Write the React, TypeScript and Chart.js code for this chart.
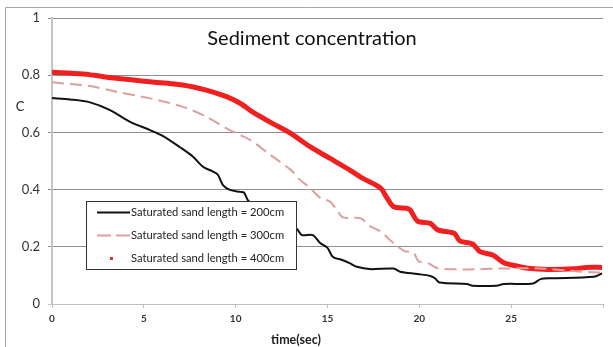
import React, { useEffect, useRef } from 'react';
import { Chart, registerables } from 'chart.js';

Chart.register(...registerables);

// ---- Data ----
const time200 = [0, 1, 2.07, 3.16, 4.25, 5.34, 6.05, 6.97, 7.68, 8.22, 8.77, 9.04, 9.31, 9.69, 10.24, 10.45, 10.7, 11.5, 12.5, 13.34, 13.6, 14.2, 14.6, 15.0, 15.3, 15.8, 16.2, 16.6, 17.3, 18.6, 18.95, 19.9, 20.6, 20.85, 21.1, 22.6, 22.9, 24.2, 24.6, 26.2, 26.6, 27.1, 29.5, 29.95];
const conc200 = [0.72, 0.715, 0.705, 0.678, 0.637, 0.608, 0.587, 0.548, 0.515, 0.48, 0.463, 0.451, 0.416, 0.399, 0.392, 0.39, 0.36, 0.33, 0.29, 0.262, 0.241, 0.241, 0.213, 0.196, 0.164, 0.154, 0.143, 0.13, 0.122, 0.124, 0.113, 0.105, 0.098, 0.09, 0.075, 0.07, 0.064, 0.064, 0.07, 0.072, 0.087, 0.09, 0.095, 0.107];

const time300 = [0, 2.07, 3.5, 5.34, 7.1, 8.4, 9.5, 10.24, 10.8, 11.9, 13.0, 13.5, 14.05, 14.6, 15.14, 15.5, 15.85, 16.8, 17.3, 17.9, 18.4, 18.95, 19.2, 19.7, 19.95, 20.5, 21.0, 22.6, 24.4, 26.6, 28.8, 29.95];
const conc300 = [0.775, 0.762, 0.742, 0.719, 0.69, 0.655, 0.614, 0.591, 0.573, 0.521, 0.469, 0.434, 0.406, 0.371, 0.358, 0.329, 0.303, 0.3, 0.273, 0.253, 0.224, 0.195, 0.185, 0.178, 0.15, 0.142, 0.125, 0.121, 0.124, 0.124, 0.113, 0.11];

const time400 = [0, 1.7, 3.5, 5.34, 7.1, 8.4, 9.5, 10.24, 11.0, 11.9, 13.0, 14.05, 15.14, 16.2, 16.9, 17.9, 18.2, 18.6, 19.3, 19.5, 19.9, 20.6, 21.0, 21.9, 22.2, 22.9, 23.3, 24.0, 24.6, 25.3, 25.9, 27.0, 28.4, 29.1, 29.95];
const conc400 = [0.81, 0.804, 0.789, 0.777, 0.766, 0.748, 0.725, 0.702, 0.668, 0.635, 0.597, 0.55, 0.509, 0.469, 0.44, 0.405, 0.375, 0.34, 0.335, 0.329, 0.29, 0.282, 0.259, 0.247, 0.221, 0.21, 0.183, 0.171, 0.144, 0.133, 0.125, 0.121, 0.123, 0.128, 0.128];

const seriesLabels = [
  'Saturated sand length = 200cm',
  'Saturated sand length = 300cm',
  'Saturated sand length = 400cm',
];
const xTickValues = [0, 5, 10, 15, 20, 25];
const yTickValues = [0, 0.2, 0.4, 0.6, 0.8, 1];
const chartTitle = 'Sediment concentration';
const xTitle = 'time(sec)';
const yTitle = 'C';

const pts = (t: number[], c: number[]) => t.map((x, i) => ({ x, y: c[i] }));

const FONT = 'Lato, "Open Sans", sans-serif';

const overlayPlugin = {
  id: 'overlay',
  afterDraw(chart: any) {
    const ctx = chart.ctx as CanvasRenderingContext2D;
    ctx.save();
    // outer frame (left & top visible)
    ctx.strokeStyle = '#a6a6a6';
    ctx.lineWidth = 1;
    ctx.beginPath();
    ctx.moveTo(5.5, 347);
    ctx.lineTo(5.5, 7.5);
    ctx.lineTo(613, 7.5);
    ctx.stroke();

    ctx.fillStyle = '#111';
    ctx.textAlign = 'center';
    ctx.textBaseline = 'middle';
    ctx.font = `20px ${FONT}`;
    ctx.fillText(chartTitle, 312, 39);

    ctx.font = `13px ${FONT}`;
    ctx.fillStyle = '#222';
    ctx.fillText(yTitle, 20, 107);

    ctx.font = `bold 12.5px ${FONT}`;
    ctx.fillText(xTitle, 296, 340);

    // legend box
    const bx = 86.5, by = 201.5, bw = 210, bh = 68;
    ctx.fillStyle = '#fff';
    ctx.fillRect(bx, by, bw, bh);
    ctx.strokeStyle = '#333';
    ctx.lineWidth = 1;
    ctx.strokeRect(bx, by, bw, bh);

    const rows = [212, 235, 258];
    const ds = chart.data.datasets;
    ctx.font = `11.2px ${FONT}`;
    ctx.textAlign = 'left';
    for (let i = 0; i < 3; i++) {
      const y = rows[i];
      const d = ds[i];
      ctx.save();
      if (i < 2) {
        ctx.strokeStyle = d.borderColor;
        ctx.lineWidth = 2;
        ctx.setLineDash(i === 1 ? [14, 5] : []);
        ctx.beginPath();
        ctx.moveTo(97, y + 0.5);
        ctx.lineTo(130, y + 0.5);
        ctx.stroke();
      } else {
        ctx.fillStyle = '#e03030';
        ctx.fillRect(110, y - 1, 3, 3);
      }
      ctx.restore();
      ctx.fillStyle = '#222';
      ctx.fillText(seriesLabels[i], 131, y + 0.5);
    }
    ctx.restore();
  },
};

export default function App() {
  const ref = useRef<HTMLCanvasElement>(null);
  useEffect(() => {
    if (!ref.current) return;
    const chart = new Chart(ref.current, {
      type: 'line',
      data: {
        datasets: [
          {
            label: seriesLabels[0],
            data: pts(time200, conc200),
            borderColor: '#111111',
            borderWidth: 2,
            pointRadius: 0,
            tension: 0.3,
          },
          {
            label: seriesLabels[1],
            data: pts(time300, conc300),
            borderColor: '#dda0a0',
            borderWidth: 2,
            borderDash: [12, 6],
            pointRadius: 0,
            tension: 0.3,
          },
          {
            label: seriesLabels[2],
            data: pts(time400, conc400),
            borderColor: '#f02020',
            borderWidth: 5,
            pointRadius: 0,
            tension: 0.3,
          },
          {
            label: seriesLabels[2] + ' core',
            data: pts(time400, conc400),
            borderColor: '#c46a6a',
            borderWidth: 1.6,
            pointRadius: 0,
            tension: 0.3,
          },
        ],
      },
      options: {
        animation: false,
        responsive: false,
        parsing: true,
        layout: { padding: { top: 18, right: 10, left: 0, bottom: 0 } },
        plugins: { legend: { display: false }, title: { display: false }, tooltip: { enabled: false } },
        scales: {
          x: {
            type: 'linear',
            min: 0,
            max: 30,
            afterFit: (s: any) => { s.height = 43; },
            afterBuildTicks: (s: any) => { s.ticks = [...xTickValues, 30].map((v) => ({ value: v })); },
            ticks: {
              callback: (v: any) => (xTickValues.includes(Number(v)) ? String(v) : ''),
              font: { family: FONT, size: 10, weight: 'bold' },
              color: '#333',
              padding: 5,
              maxRotation: 0,
              autoSkip: false,
            },
            grid: { drawOnChartArea: false, drawTicks: true, tickLength: 4, color: '#bdbdbd' },
            border: { display: true, color: '#bdbdbd', width: 1 },
          },
          y: {
            type: 'linear',
            min: 0,
            max: 1,
            afterFit: (s: any) => { s.width = 52; },
            afterBuildTicks: (s: any) => { s.ticks = yTickValues.map((v) => ({ value: v })); },
            ticks: {
              callback: (v: any) => String(Math.round(Number(v) * 10) / 10),
              font: { family: FONT, size: 13 },
              color: '#333',
              padding: 8,
            },
            grid: {
              drawTicks: true,
              tickLength: 4,
              color: (c: any) => (c.tick && c.tick.value === 0 ? '#c8c8c8' : '#8f8f8f'),
            },
            border: { display: true, color: '#c4c4c4', width: 2 },
          },
        },
      },
      plugins: [overlayPlugin],
    });
    return () => chart.destroy();
  }, []);
  return (
    <div style={{ position: 'absolute', left: 0, top: 0, width: 613, height: 347, background: '#fff' }}>
      <canvas ref={ref} width={613} height={347} style={{ display: 'block' }} />
    </div>
  );
}
